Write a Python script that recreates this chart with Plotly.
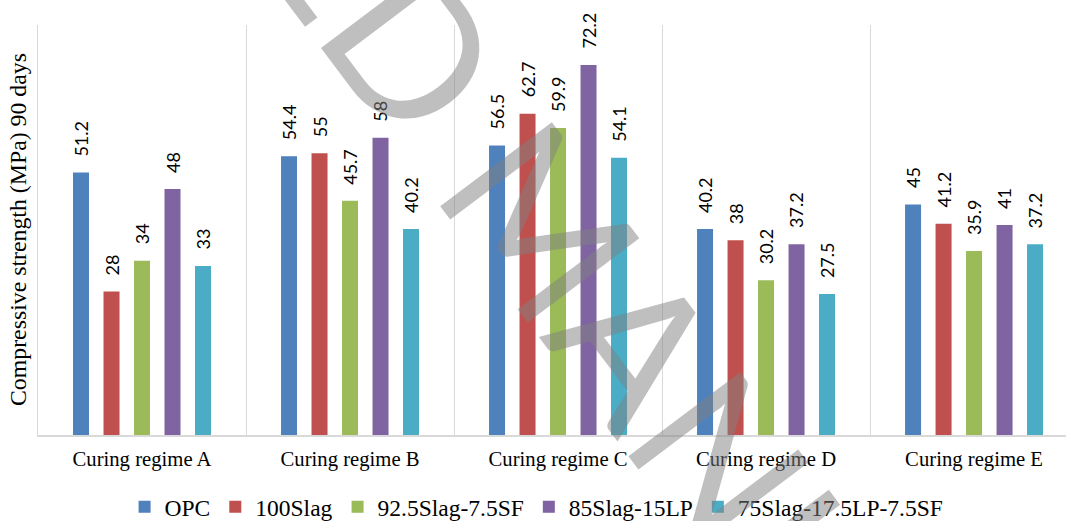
import plotly.graph_objects as go

# Compressive strength at 90 days for each curing regime and mix
regimes = ["Curing regime A", "Curing regime B", "Curing regime C",
           "Curing regime D", "Curing regime E"]
mixes = ["OPC", "100Slag", "92.5Slag-7.5SF", "85Slag-15LP", "75Slag-17.5LP-7.5SF"]
opc = [51.2, 54.4, 56.5, 40.2, 45]
slag100 = [28, 55, 62.7, 38, 41.2]
slag92_sf = [34, 45.7, 59.9, 30.2, 35.9]
slag85_lp = [48, 58, 72.2, 37.2, 41]
slag75_lp_sf = [33, 40.2, 54.1, 27.5, 37.2]
series = [opc, slag100, slag92_sf, slag85_lp, slag75_lp_sf]
colors = ["#4F81BD", "#C0504D", "#9BBB59", "#8064A2", "#4BACC6"]

BARGAP = 0.267
GROUPGAP = 0.475
SERIF = "Liberation Serif"
LABEL_FONT = "Lato, Open Sans, sans-serif"

fig = go.Figure()
for name, vals, col in zip(mixes, series, colors):
    fig.add_trace(go.Bar(x=regimes, y=vals, name=name, marker_color=col,
                         marker_line_width=0))

# value labels above each bar, rotated
n = len(mixes)
slot = (1 - BARGAP) / n
for j, vals in enumerate(series):
    for i, v in enumerate(vals):
        fig.add_annotation(x=i + (j - (n - 1) / 2) * slot, y=v, xref="x", yref="y",
                           text=f"{v:g}", textangle=-90, showarrow=False,
                           yanchor="bottom", xanchor="center", yshift=14,
                           font=dict(family=LABEL_FONT, size=18, color="#000000"))

# y axis title
fig.add_annotation(x=0, y=0.5, xref="paper", yref="paper", xanchor="right",
                   yanchor="middle", xshift=-5, textangle=-90, showarrow=False,
                   text="Compressive strength (MPa) 90 days",
                   font=dict(family=SERIF, size=23.8, color="#000000"))

# diagonal watermark
fig.add_annotation(x=0.5, y=0.5, xref="paper", yref="paper",
                   xanchor="center", yanchor="middle", textangle=53,
                   showarrow=False, text="ACCEPTED MANUSCRIPT",
                   font=dict(family="Lato, sans-serif", size=195,
                             weight=400, color="rgba(128,128,128,0.5)"))

fig.update_layout(
    width=1066, height=521,
    margin=dict(l=38, r=0, t=25, b=86, autoexpand=False),
    paper_bgcolor="white", plot_bgcolor="white",
    barmode="group", bargap=BARGAP, bargroupgap=GROUPGAP,
    showlegend=True,
    legend=dict(orientation="h", x=0.485, xanchor="center", y=-0.1756,
                yanchor="middle", font=dict(family=SERIF, size=23.5, color="#000000"),
                itemwidth=30, traceorder="normal"),
    xaxis=dict(type="category", range=[-0.5, 4.442], tickson="boundaries",
               showgrid=True, gridcolor="#D9D9D9", gridwidth=1,
               showline=True, linecolor="#D9D9D9", linewidth=1.5,
               ticks="", ticklabelstandoff=4,
               tickfont=dict(family=SERIF, size=20.7, color="#000000")),
    yaxis=dict(range=[0, 80], showticklabels=False, showgrid=False,
               zeroline=False, showline=True, linecolor="#D9D9D9", linewidth=1,
               ticks=""),
)

fig.write_html("out.html")
